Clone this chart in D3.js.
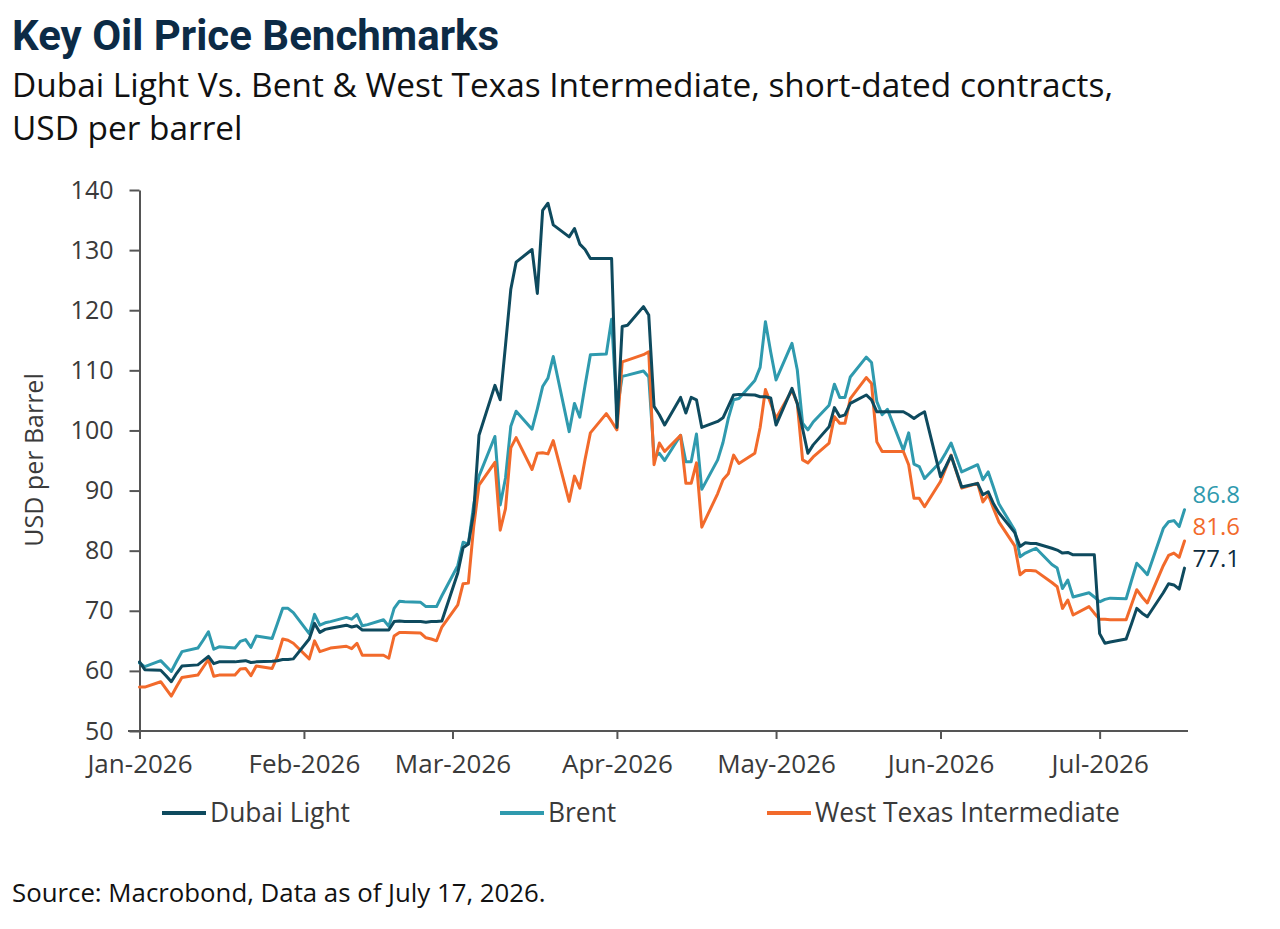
<!DOCTYPE html>
<html><head><meta charset="utf-8">
<script src="https://cdn.jsdelivr.net/npm/d3@7/dist/d3.min.js"></script>
<style>
body{margin:0;background:#fff}
svg{display:block}
text{font-family:"Open Sans",sans-serif}
</style>
</head><body>
<svg id="chart" width="1280" height="929"></svg>
<script>
// ---- data ----
const dates = [
"2026-01-01","2026-01-02","2026-01-05","2026-01-06","2026-01-07","2026-01-08","2026-01-09","2026-01-12","2026-01-13","2026-01-14","2026-01-15","2026-01-16","2026-01-19","2026-01-20","2026-01-21","2026-01-22","2026-01-23","2026-01-26","2026-01-27","2026-01-28","2026-01-29","2026-01-30",
"2026-02-02","2026-02-03","2026-02-04","2026-02-05","2026-02-06","2026-02-09","2026-02-10","2026-02-11","2026-02-12","2026-02-13","2026-02-16","2026-02-17","2026-02-18","2026-02-19","2026-02-20","2026-02-23","2026-02-24","2026-02-25","2026-02-26","2026-02-27",
"2026-03-02","2026-03-03","2026-03-04","2026-03-05","2026-03-06","2026-03-09","2026-03-10","2026-03-11","2026-03-12","2026-03-13","2026-03-16","2026-03-17","2026-03-18","2026-03-19","2026-03-20","2026-03-23","2026-03-24","2026-03-25","2026-03-26","2026-03-27","2026-03-30","2026-03-31",
"2026-04-01","2026-04-02","2026-04-03","2026-04-06","2026-04-07","2026-04-08","2026-04-09","2026-04-10","2026-04-13","2026-04-14","2026-04-15","2026-04-16","2026-04-17","2026-04-20","2026-04-21","2026-04-22","2026-04-23","2026-04-24","2026-04-27","2026-04-28","2026-04-29","2026-04-30",
"2026-05-01","2026-05-04","2026-05-05","2026-05-06","2026-05-07","2026-05-08","2026-05-11","2026-05-12","2026-05-13","2026-05-14","2026-05-15","2026-05-18","2026-05-19","2026-05-20","2026-05-21","2026-05-22","2026-05-25","2026-05-26","2026-05-27","2026-05-28","2026-05-29",
"2026-06-01","2026-06-02","2026-06-03","2026-06-04","2026-06-05","2026-06-08","2026-06-09","2026-06-10","2026-06-11","2026-06-12","2026-06-15","2026-06-16","2026-06-17","2026-06-18","2026-06-19","2026-06-22","2026-06-23","2026-06-24","2026-06-25","2026-06-26","2026-06-29","2026-06-30",
"2026-07-01","2026-07-02","2026-07-03","2026-07-06","2026-07-07","2026-07-08","2026-07-09","2026-07-10","2026-07-13","2026-07-14","2026-07-15","2026-07-16","2026-07-17"
];
const dubai = [
61.5,60.2,60.1,59.2,58.2,59.6,60.8,61.0,61.7,62.4,61.2,61.5,61.5,61.6,61.7,61.4,61.5,61.6,61.7,61.9,61.9,62.0,
65.3,67.9,66.4,66.9,67.1,67.6,67.3,67.5,66.8,66.8,66.8,66.8,68.2,68.3,68.2,68.2,68.1,68.2,68.2,68.3,
76.3,80.5,81.1,86.4,99.2,107.5,105.1,114.2,123.5,128.0,130.1,122.8,136.6,137.8,134.2,132.2,133.6,131.0,130.1,128.6,128.6,128.6,
100.5,117.3,117.5,120.6,119.2,104.0,102.6,100.9,105.5,102.9,105.5,105.1,100.5,101.5,102.1,104.0,105.9,106.0,105.9,105.6,105.6,105.4,
100.9,107.0,104.5,100.3,96.2,97.6,100.6,103.8,102.3,102.6,104.5,105.9,105.1,103.1,103.1,103.1,103.1,102.6,102.0,102.6,103.1,
92.3,94.0,95.8,93.2,90.6,91.2,89.3,89.8,87.8,86.3,83.0,80.7,81.3,81.2,81.2,80.4,80.1,79.6,79.7,79.3,79.3,79.3,
66.2,64.6,64.8,65.3,67.8,70.4,69.6,69.0,73.0,74.5,74.3,73.6,77.1
];
const brent = [
61.3,60.7,61.7,60.8,59.9,61.6,63.2,63.8,65.1,66.5,63.6,64.0,63.8,64.9,65.2,63.9,65.8,65.4,67.9,70.4,70.4,69.7,
66.2,69.4,67.6,68.0,68.2,68.9,68.6,69.4,67.5,67.7,68.5,67.4,70.4,71.6,71.5,71.4,70.7,70.7,70.7,72.5,
77.5,81.4,81.1,87.6,92.4,99.0,87.6,92.1,100.7,103.2,100.2,103.6,107.3,108.7,112.3,99.8,104.5,102.2,107.5,112.6,112.7,118.5,
103.1,109.0,109.2,109.9,108.9,95.6,96.2,95.0,99.2,94.8,94.8,99.4,90.2,95.1,98.0,102.0,105.1,105.3,108.3,110.5,118.1,113.0,
108.4,114.5,110.1,101.2,100.1,101.4,104.2,107.7,105.5,105.5,108.9,112.2,111.3,104.8,102.6,103.5,96.7,99.6,94.4,94.0,92.0,
94.8,96.3,97.9,95.5,93.1,94.3,91.8,93.1,90.5,87.8,83.4,79.0,79.6,80.0,80.4,77.7,77.1,73.7,75.1,72.3,73.0,72.3,
71.5,71.9,72.1,72.0,75.0,77.9,77.0,76.0,83.7,84.8,85.0,84.0,86.8
];
const wti = [
57.3,57.3,58.2,57.0,55.8,57.4,58.9,59.3,60.6,61.9,59.1,59.3,59.3,60.3,60.4,59.2,60.8,60.4,62.4,65.3,65.1,64.6,
62.0,65.0,63.2,63.5,63.8,64.1,63.7,64.6,62.6,62.6,62.6,62.1,65.8,66.4,66.4,66.3,65.5,65.3,65.0,67.3,
71.0,74.5,74.6,84.0,90.9,94.7,83.4,87.0,97.1,98.8,93.5,96.2,96.3,96.1,98.3,88.2,92.4,90.4,95.2,99.6,102.8,101.5,
100.1,111.4,111.7,112.6,113.1,94.3,97.9,96.5,99.2,91.2,91.2,94.6,83.9,89.5,91.8,92.8,95.9,94.5,96.2,100.5,106.8,104.5,
102.0,106.7,104.5,95.1,94.6,95.6,97.9,102.3,101.2,101.2,105.3,108.8,107.8,98.1,96.5,96.5,96.5,94.3,88.7,88.7,87.3,
91.5,93.7,95.9,93.1,90.4,91.2,88.1,89.3,87.0,84.8,80.8,76.0,76.7,76.7,76.6,74.7,74.0,70.4,71.8,69.3,70.7,69.6,
68.6,68.6,68.5,68.5,71.0,73.5,72.3,71.3,77.5,79.2,79.6,78.9,81.6
];
const seriesNames = ["Dubai Light", "Brent", "West Texas Intermediate"];
const yTicks = [50, 60, 70, 80, 90, 100, 110, 120, 130, 140];
const monthTicks = ["2026-01-01","2026-02-01","2026-03-01","2026-04-01","2026-05-01","2026-06-01","2026-07-01"];
const endLabels = ["77.1", "86.8", "81.6"];

// ---- styles ----
const lineColors = ["#0e4a5e", "#2f9aae", "#f26a2b"];
const labelColors = ["#0c2c40", "#2f9aae", "#f26a2b"];
const labelOffsets = [9, 15, 14];
const axisColor = "#555";
const textColor = "#3a3a3a";

const parse = d3.timeParse("%Y-%m-%d");
const xDates = dates.map(parse);
const series = [dubai, brent, wti];

const svg = d3.select("#chart");
const x = d3.scaleTime().domain([parse("2026-01-01"), parse("2026-07-17")]).range([139.5, 1184.5]);
const y = d3.scaleLinear().domain([50, 140]).range([731, 190]);

// Titles
svg.append("text").attr("x", 12).attr("y", 50)
  .style("font-family", "Roboto, sans-serif").style("font-weight", 700)
  .style("font-size", "42px").attr("fill", "#0c2b46")
  .text("Key Oil Price Benchmarks");
svg.append("text").attr("x", 12).attr("y", 97)
  .style("font-size", "33.4px").attr("fill", "#111")
  .text("Dubai Light Vs. Bent & West Texas Intermediate, short-dated contracts,");
svg.append("text").attr("x", 12).attr("y", 140)
  .style("font-size", "33.4px").attr("fill", "#111")
  .text("USD per barrel");

// Y axis
const yAxis = svg.append("g").attr("transform", `translate(${x(parse("2026-01-01"))},0)`)
  .call(d3.axisLeft(y).tickValues(yTicks).tickSize(10).tickSizeOuter(0).tickPadding(16));
yAxis.selectAll("path,line").attr("stroke", axisColor).attr("stroke-width", 2);
yAxis.selectAll("text").style("font-size", "25px").attr("fill", textColor).style("font-family", '"Open Sans",sans-serif');

// X axis
const xAxis = svg.append("g").attr("transform", "translate(0,731)")
  .call(d3.axisBottom(x).tickValues(monthTicks.map(parse)).tickFormat(d3.timeFormat("%b-%Y"))
  .tickSize(8).tickSizeOuter(0).tickPadding(16));
xAxis.select(".domain").remove();
xAxis.selectAll("line").attr("stroke", axisColor).attr("stroke-width", 2);
xAxis.selectAll("text").style("font-size", "26px").attr("fill", textColor).style("font-family", '"Open Sans",sans-serif');
xAxis.insert("line", ":first-child").attr("x1", 128).attr("x2", 1188).attr("y1", 0).attr("y2", 0)
  .attr("stroke", axisColor).attr("stroke-width", 2);

// Y axis title
svg.append("text").attr("transform", "translate(43,460) rotate(-90)")
  .attr("text-anchor", "middle").style("font-size", "25px").attr("fill", textColor)
  .text("USD per Barrel");

// Lines
const line = d3.line().x((d, i) => x(xDates[i])).y(d => y(d));
const drawOrder = [1, 2, 0];
drawOrder.forEach(k => {
  svg.append("path").datum(series[k]).attr("d", line)
    .attr("fill", "none").attr("stroke", lineColors[k]).attr("stroke-width", 3)
    .attr("stroke-linejoin", "round").attr("stroke-linecap", "round");
});

// End labels
series.forEach((s, k) => {
  const last = s[s.length - 1];
  svg.append("text").attr("x", x(xDates[xDates.length - 1]) + 8)
    .attr("y", y(last) - labelOffsets[k]).attr("dy", "0.35em")
    .style("font-size", "24px").attr("fill", labelColors[k])
    .text(endLabels[k]);
});

// Legend
const legendX = [162, 500, 767];
seriesNames.forEach((name, k) => {
  const g = svg.append("g").attr("transform", `translate(${legendX[k]},813)`);
  g.append("line").attr("x1", 0).attr("x2", 44).attr("y1", 0).attr("y2", 0)
    .attr("stroke", lineColors[k]).attr("stroke-width", 4);
  g.append("text").attr("x", 48).attr("dy", "0.35em")
    .style("font-size", "26.4px").attr("fill", textColor).text(name);
});

// Source
svg.append("text").attr("x", 12).attr("y", 902)
  .style("font-size", "25.8px").attr("fill", "#111")
  .text("Source: Macrobond, Data as of July 17, 2026.");
</script>
</body></html>
